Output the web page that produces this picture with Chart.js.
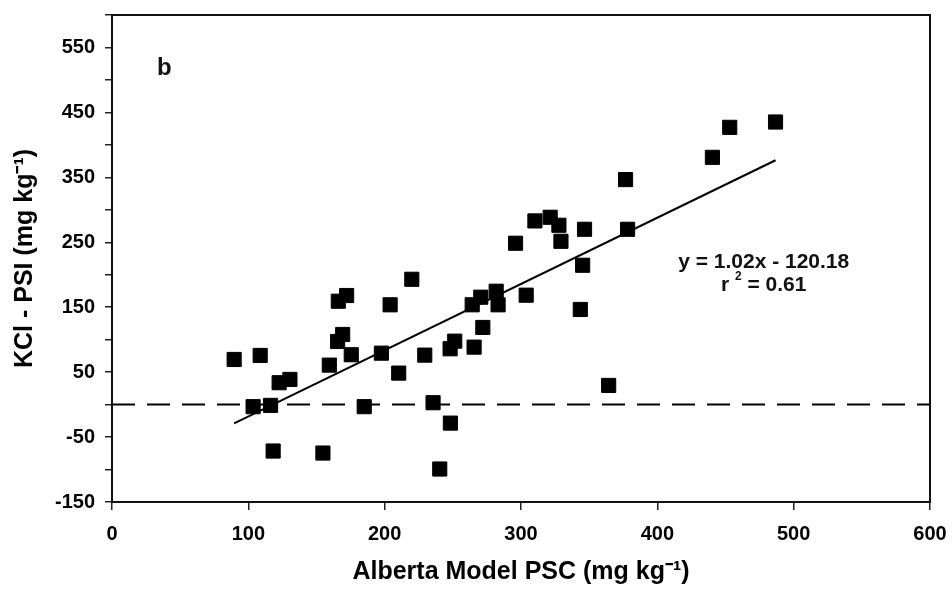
<!DOCTYPE html>
<html>
<head>
<meta charset="utf-8">
<script src="https://cdn.jsdelivr.net/npm/chart.js@4/dist/chart.umd.min.js"></script>
<style>
  html, body { margin: 0; padding: 0; background: #fff; }
  #wrap { width: 952px; height: 589px; }
</style>
</head>
<body>
<div id="wrap"><canvas id="myChart" width="952" height="589"></canvas></div>
<script>
// Alberta model PSC (x) vs KCl - PSI (y)
var psc = [89.6, 108.7, 122.6, 130.5, 103.5, 116.3, 118.2, 154.7, 159.4, 175.5,
           165.5, 169.2, 185.0, 166.0, 172.1, 204.0, 219.9, 197.6, 210.3, 229.4,
           235.5, 248.2, 240.4, 248.0, 251.4, 264.2, 265.6, 270.5, 272.0, 281.8,
           283.2, 296.0, 303.8, 310.2, 321.4, 327.8, 329.3, 343.5, 345.2, 346.6,
           364.3, 376.7, 378.2, 440.4, 453.1, 486.7];
var kclPsi = [69.5, 75.7, 33.7, 38.8, -3.2, -1.2, -71.5, -74.6, 60.8, 76.8,
              97.2, 108.0, -3.2, 159.2, 168.0, 153.7, 193.0, 79.2, 48.5, 76.2,
              2.9, -28.5, -99.2, 86.0, 97.7, 153.7, 88.5, 165.4, 118.8, 174.6,
              153.7, 248.5, 168.5, 282.9, 288.5, 276.2, 251.5, 146.5, 214.6, 270.0,
              29.5, 346.5, 270.0, 380.8, 427.0, 435.2];

// regression line end points and the zero reference line
var fitX = [89.6, 486.7];
var fitY = [-28.8, 376.3];
var zeroX = [0, 600];
var zeroY = [0, 0];

var eqText = "y = 1.02x - 120.18";
var r2Text = "0.61";

function pairs(xs, ys) {
  return xs.map((x, i) => ({ x: x, y: ys[i] }));
}

var FONT = "'Liberation Sans', Arial, sans-serif";

var extras = {
  id: 'extras',
  afterDraw(chart) {
    const ctx = chart.ctx;
    const a = chart.chartArea;
    const xs = chart.scales.x, ys = chart.scales.y;
    ctx.save();
    // frame
    ctx.strokeStyle = '#111';
    ctx.lineWidth = 2;
    ctx.strokeRect(a.left, a.top, a.right - a.left, a.bottom - a.top);
    ctx.fillStyle = '#111';
    // panel letter
    ctx.font = 'bold 24px ' + FONT;
    ctx.textAlign = 'left';
    ctx.textBaseline = 'middle';
    ctx.fillText('b', 157, 68);
    // equation
    ctx.font = 'bold 21px ' + FONT;
    ctx.textAlign = 'center';
    const cx = xs.getPixelForValue(478);
    ctx.fillText(eqText, cx, ys.getPixelForValue(219));
    // r^2 line with superscript
    const base = 'r ';
    const rest = ' = ' + r2Text;
    const w1 = ctx.measureText(base).width;
    const w3 = ctx.measureText(rest).width;
    ctx.font = 'bold 12px ' + FONT;
    const w2 = ctx.measureText('2').width;
    const total = w1 + w2 + w3;
    let x0 = cx - total / 2;
    const yr = ys.getPixelForValue(184);
    ctx.textAlign = 'left';
    ctx.font = 'bold 21px ' + FONT;
    ctx.fillText(base, x0, yr);
    ctx.font = 'bold 12px ' + FONT;
    ctx.fillText('2', x0 + w1, yr - 8);
    ctx.font = 'bold 21px ' + FONT;
    ctx.fillText(rest, x0 + w1 + w2, yr);
    ctx.restore();
  }
};

new Chart(document.getElementById('myChart'), {
  type: 'scatter',
  data: {
    datasets: [
      {
        label: 'data',
        data: pairs(psc, kclPsi),
        backgroundColor: '#000',
        borderColor: '#000',
        borderWidth: 1,
        pointStyle: 'rect',
        pointRadius: 10,
        pointHoverRadius: 10,
        order: 1
      },
      {
        label: 'fit',
        type: 'line',
        data: pairs(fitX, fitY),
        borderColor: '#000',
        borderWidth: 2,
        pointRadius: 0,
        fill: false,
        order: 2
      },
      {
        label: 'zero',
        type: 'line',
        data: pairs(zeroX, zeroY),
        borderColor: '#000',
        borderWidth: 2,
        borderDash: [23, 12],
        pointRadius: 0,
        fill: false,
        order: 3
      }
    ]
  },
  options: {
    responsive: false,
    animation: false,
    layout: { padding: { left: 0, right: 22, top: 15, bottom: 0 } },
    plugins: {
      legend: { display: false },
      tooltip: { enabled: false }
    },
    scales: {
      x: {
        type: 'linear',
        min: 0,
        max: 600,
        afterFit: (s) => { s.height = 87; s.paddingLeft = 0; s.paddingRight = 0; },
        ticks: {
          stepSize: 100,
          color: '#000',
          padding: 12,
          font: { family: FONT, size: 20, weight: 'bold' }
        },
        grid: { drawOnChartArea: false, tickLength: 8, color: '#222', lineWidth: 1.5 },
        border: { color: '#111', width: 2 },
        title: {
          display: true,
          text: 'Alberta Model PSC (mg kg\u207B\u00B9)',
          color: '#000',
          padding: { top: 0, bottom: 2 },
          font: { family: FONT, size: 25, weight: 'bold' }
        }
      },
      y: {
        type: 'linear',
        min: -150,
        max: 600,
        afterFit: (s) => { s.width = 112; s.paddingTop = 0; s.paddingBottom = 0; },
        ticks: {
          stepSize: 50,
          color: '#000',
          padding: 10,
          font: { family: FONT, size: 20, weight: 'bold' },
          callback: (v) => ((v + 150) % 100 === 0 ? v : '')
        },
        grid: { drawOnChartArea: false, tickLength: 7, color: '#222', lineWidth: 1.5 },
        border: { color: '#111', width: 2 },
        title: {
          display: true,
          text: 'KCl - PSI (mg kg\u207B\u00B9)',
          color: '#000',
          padding: { top: 10, bottom: 0 },
          font: { family: FONT, size: 25, weight: 'bold' }
        }
      }
    }
  },
  plugins: [extras]
});
</script>
</body>
</html>
